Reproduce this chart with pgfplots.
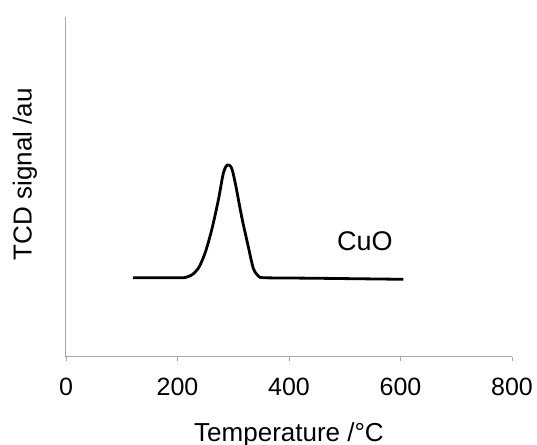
\documentclass[border=0pt]{standalone}
\usepackage{pgfplots}
\pgfplotsset{compat=1.18}
\usepackage{fontspec}
\setmainfont{Liberation Sans}
\begin{document}
\begin{tikzpicture}
\begin{axis}[
  at={(0,0)}, anchor=south west,
  scale only axis, width=223pt, height=170pt,
  xmin=0, xmax=800, ymin=0, ymax=340,
  axis x line=bottom, axis y line=left,
  axis line style={gray!70, line width=0.5pt, -},
  xtick={0,200,400,600,800}, ytick=\empty,
  tick style={gray!70, line width=0.4pt},
  major tick length=2pt, tick align=outside,
  /pgf/number format/assume math mode=true,
  xticklabel style={font=\fontsize{12.5}{14}\selectfont, yshift=-5pt},
  xlabel={Temperature /°C},
  xlabel style={font=\fontsize{13}{15}\selectfont, at={(axis description cs:0.5,0)}, anchor=center, yshift=-39pt},
  ylabel={TCD signal /au},
  ylabel style={font=\fontsize{13}{15}\selectfont, at={(axis description cs:-0.092,0.538)}, anchor=center, rotate=0},
  clip=false,
]
\addplot[black, line width=1.4pt, smooth, tension=0.5] coordinates {
(120,79.3) (200,79.3) (213.5,79.5) (225.4,82) (237.4,88.7) (249.3,103.7) (261.3,127) (273.3,157) (282.2,183.7) (289.4,192) (297.2,188.7) (304.9,170.3) (315.1,140.3) (327,110.3) (336,88.7) (345,81) (354,79.3) (400,79.0) (455.6,78.7) (530,78.2) (605,77.7)
};
\node[font=\fontsize{13.5}{15}\selectfont] at (axis cs:536,115.3) {CuO};
\end{axis}
\pgfresetboundingbox
\path (-33pt,-44pt) rectangle (235.5pt,178.5pt);
\end{tikzpicture}
\end{document}
